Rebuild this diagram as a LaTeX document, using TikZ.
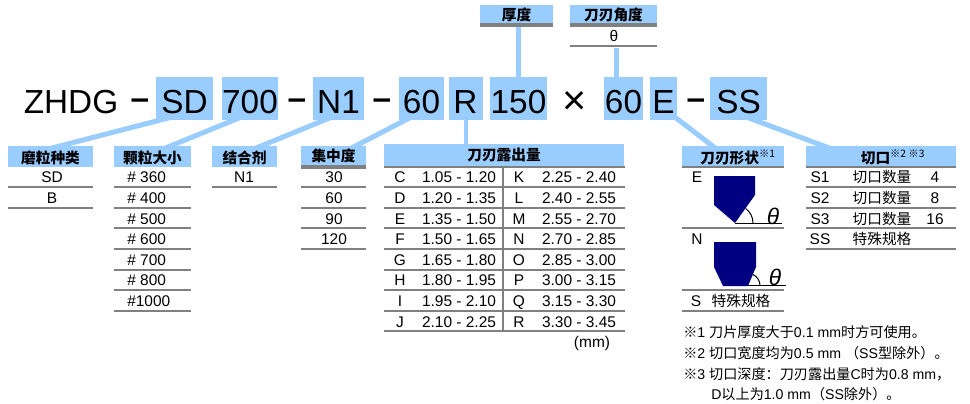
\documentclass[tikz,border=0pt]{standalone}
\usepackage{fontspec}
\usetikzlibrary{backgrounds}
\setmainfont{Liberation Sans}
\newfontfamily\cjk{Noto Sans CJK SC}
\definecolor{boxblue}{RGB}{153,204,255}
\definecolor{rulegray}{RGB}{128,128,128}
\definecolor{bladeblue}{RGB}{0,0,128}
\newcommand{\supmark}[1]{\textsuperscript{\normalfont\cjk #1}}
\tikzset{
    codebox/.style = {fill=boxblue, minimum height=32.25pt, inner sep=0pt, text height=21.8pt, text depth=0pt, font={\fontsize{25}{30}\selectfont}},
    codetext/.style = {inner sep=0pt, text height=21.8pt, text depth=0pt, font={\fontsize{25}{30}\selectfont}},
    headbox/.style = {fill=boxblue, inner sep=0pt, font={\fontsize{11}{13}\selectfont\bfseries\cjk}},
    lowtext/.style = {text height=10.5pt, text depth=0pt},
    rowtext/.style = {inner sep=0pt, text height=8.6pt, text depth=0pt, font={\fontsize{11.6}{14}\selectfont}},
    notetext/.style = {inner sep=0pt, anchor=west, font={\fontsize{10.6}{13}\selectfont}},
    leader/.style = {draw=boxblue, line width=3.75pt},
    rowrule/.style = {draw=rulegray, line width=1.5pt},
    headrule/.style = {draw=rulegray, line width=3pt},
}
\begin{document}
\begin{tikzpicture}[x=0.75pt, y=-0.75pt]
    \useasboundingbox (0, 0) rectangle (970, 403);

    % model code
    \node[codetext] (zhdg) at (71, 98.5) {ZHDG};
    \node[codetext] (dasha) at (140, 94.5) {\bfseries –};
    \node[codebox, minimum width=42.75pt] (codeSD) at (184.5, 98.5) {SD};
    \node[codebox, minimum width=42pt] (codeGrit) at (250, 98.5) {700};
    \node[codetext] (dashb) at (297, 94.5) {\bfseries –};
    \node[codebox, minimum width=38.25pt] (codeBond) at (338.5, 98.5) {N1};
    \node[codetext] (dashc) at (382, 94.5) {\bfseries –};
    \node[codebox, minimum width=33.75pt] (codeConc) at (421.5, 98.5) {60};
    \node[codebox, minimum width=25.5pt] (codeR) at (465.5, 98.5) {R};
    \node[codebox, minimum width=42.75pt] (codeThick) at (518.5, 98.5) {150};
    \node[codetext, font={\fontsize{31}{36}\selectfont}] (times) at (575, 100) {×};
    \node[codebox, minimum width=29.25pt] (codeAngle) at (623.5, 98.5) {60};
    \node[codebox, minimum width=20.25pt] (codeE) at (663.5, 98.5) {E};
    \node[codetext] (dashd) at (696, 94.5) {\bfseries –};
    \node[codebox, minimum width=42.75pt] (codeSS) at (738.5, 98.5) {SS};

    % headers
    \node[headbox, minimum width=54.75pt, minimum height=14.25pt] (headThick) at (516.5, 14.5) {厚度};
    \node[headbox, minimum width=65.25pt, minimum height=14.25pt] (headAngle) at (613.5, 14.5) {刀刃角度};
    \node[rowtext] (angleTheta) at (614, 36) {θ};
    \coordinate (angleEnd) at (616, 48);
    \node[headbox, lowtext, minimum width=63.75pt, minimum height=15.75pt] (headType) at (50.5, 156.5) {磨粒种类};
    \node[headbox, lowtext, minimum width=57.75pt, minimum height=15.75pt] (headGrit) at (152.5, 156.5) {颗粒大小};
    \node[headbox, lowtext, minimum width=48.75pt, minimum height=15.75pt] (headBond) at (244.5, 156.5) {结合剂};
    \node[headbox, minimum width=48.75pt, minimum height=14.25pt] (headConc) at (333.5, 155.5) {集中度};
    \node[headbox, minimum width=180pt, minimum height=16.5pt] (headExpo) at (504, 155) {刀刃露出量};
    \node[headbox, lowtext, minimum width=76.5pt, minimum height=15pt] (headShape) at (733, 156) {\hspace{7.5pt}刀刃形状\supmark{※1}};
    \node[headbox, lowtext, minimum width=112.5pt, minimum height=15pt] (headSlot) at (881, 156) {\hspace{18pt}切口\supmark{※2 ※3}};

    % leaders
    \begin{scope}[on background layer]
        \draw[leader] ([xshift=-11pt, yshift=2pt]codeSD.south) -- ([yshift=-2pt]headType.north);
        \draw[leader] ([xshift=-7.5pt, yshift=2pt]codeGrit.south) -- ([xshift=9pt, yshift=-2pt]headGrit.north);
        \draw[leader] ([xshift=-6pt, yshift=2pt]codeBond.south) -- ([xshift=8pt, yshift=-2pt]headBond.north);
        \draw[leader] ([xshift=-8.5pt, yshift=2pt]codeConc.south) -- ([xshift=13pt, yshift=-2pt]headConc.north);
        \draw[leader, line width=3pt] (codeR.south) -- (codeR.south |- headExpo.north);
        \draw[leader] (headThick.south -| codeThick.north) -- (codeThick.north);
        \draw[leader] (angleEnd) -- (angleEnd |- codeAngle.north);
        \draw[leader] ([xshift=9pt, yshift=2pt]codeE.south) -- ([xshift=-13pt, yshift=-2pt]headShape.north);
        \draw[leader] ([xshift=7pt, yshift=2pt]codeSS.south) -- ([xshift=-38pt, yshift=-2pt]headSlot.north);
    \end{scope}

    % header rules
    \draw[headrule] (480, 25.5) -- (553, 25.5);
    \draw[headrule] (570, 25.5) -- (657, 25.5);
    \draw[rowrule] (570, 46) -- (657, 46);
    \draw[headrule] (301, 167) -- (366, 167);
    \draw[rowrule] (384, 167) -- (625, 167);
    \draw[rowrule] (682, 167) -- (784, 167);
    \draw[rowrule] (806, 167) -- (956, 167);

    % type, bond
    \node[rowtext] (typeA) at (52, 177) {SD};
    \node[rowtext] (typeB) at (52, 198) {B};
    \draw[rowrule] (8, 187) -- (93, 187);
    \draw[rowrule] (8, 208) -- (93, 208);
    \node[rowtext] (bondA) at (244, 177) {N1};
    \draw[rowrule] (212, 187) -- (277, 187);

    % grit
    \foreach \y/\val [count=\i] in {177/\# 360, 198/\# 400, 219/\# 500, 239/\# 600, 260/\# 700, 280/\# 800, 301/\#1000} {
        \node[rowtext, anchor=west] (grit\i) at (127, \y) {\val};
    }
    \foreach \y in {187, 208, 228, 249, 270, 290, 311} {
        \draw[rowrule] (114, \y) -- (191, \y);
    }

    % concentration
    \foreach \y/\val [count=\i] in {177/30, 198/60, 219/90, 239/120} {
        \node[rowtext] (conc\i) at (334, \y) {\val};
    }
    \foreach \y in {187, 208, 228, 249} {
        \draw[rowrule] (301, \y) -- (366, \y);
    }

    % exposure
    \foreach \y/\a/\b/\c/\d [count=\i] in {
        177/C/1.05 - 1.20/K/2.25 - 2.40,
        198/D/1.20 - 1.35/L/2.40 - 2.55,
        219/E/1.35 - 1.50/M/2.55 - 2.70,
        239/F/1.50 - 1.65/N/2.70 - 2.85,
        260/G/1.65 - 1.80/O/2.85 - 3.00,
        280/H/1.80 - 1.95/P/3.00 - 3.15,
        301/I/1.95 - 2.10/Q/3.15 - 3.30,
        322/J/2.10 - 2.25/R/3.30 - 3.45} {
        \node[rowtext] (expoa\i) at (400, \y) {\a};
        \node[rowtext] (expob\i) at (459, \y) {\b};
        \node[rowtext] (expoc\i) at (519, \y) {\c};
        \node[rowtext] (expod\i) at (579, \y) {\d};
    }
    \foreach \y in {187, 208, 228, 249, 270, 290, 311, 331} {
        \draw[rowrule] (384, \y) -- (625, \y);
    }
    \draw[rowrule] (503, 167) -- (503, 332);
    \node[rowtext] (unit) at (592, 342) {(mm)};

    % shape
    \node[rowtext] (shapeE) at (697, 177) {E};
    \fill[bladeblue] (714, 176) -- (755, 176) -- (755, 195) -- (735, 223) -- (714, 205) -- cycle;
    \draw[line width=0.75pt] (735, 223) -- (782, 223);
    \draw[line width=0.75pt] (753, 223) arc[start angle=0, end angle=-54, radius=18];
    \node[inner sep=0pt, font={\fontsize{17}{20}\selectfont\itshape}] (thetaE) at (773, 216) {θ};
    \draw[rowrule] (682, 228) -- (784, 228);
    \node[rowtext] (shapeN) at (697, 239) {N};
    \fill[bladeblue] (714, 242) -- (756, 242) -- (756, 267) -- (748, 286) -- (723, 286) -- (714, 267) -- cycle;
    \draw[line width=0.75pt] (748, 285.5) -- (786, 285.5);
    \draw[line width=0.75pt] (760, 285.5) arc[start angle=0, end angle=-68, radius=12];
    \node[inner sep=0pt, font={\fontsize{17}{20}\selectfont\itshape}] (thetaN) at (775, 277) {θ};
    \draw[rowrule] (682, 290) -- (784, 290);
    \node[rowtext] (shapeS) at (696, 301) {S};
    \node[rowtext, font={\fontsize{11}{14}\selectfont\cjk}] (shapeSt) at (741, 301) {特殊规格};
    \draw[rowrule] (682, 311) -- (784, 311);

    % slots
    \foreach \y/\a/\b/\c [count=\i] in {177/S1/切口数量/4, 198/S2/切口数量/8, 219/S3/切口数量/16, 239/SS/特殊规格/{}} {
        \node[rowtext] (slota\i) at (820, \y) {\a};
        \node[rowtext, font={\fontsize{11}{14}\selectfont\cjk}] (slotb\i) at (882, \y) {\b};
        \node[rowtext] (slotc\i) at (935, \y) {\c};
    }
    \foreach \y in {187, 208, 228, 249} {
        \draw[rowrule] (806, \y) -- (956, \y);
    }

    % notes
    \node[notetext] (noteA) at (683, 332) {{\cjk ※}1 {\cjk 刀片厚度大于}0.1 mm{\cjk 时方可使用。}};
    \node[notetext] (noteB) at (683, 353) {{\cjk ※}2 {\cjk 切口宽度均为}0.5 mm {\cjk （}SS{\cjk 型除外）。}};
    \node[notetext] (noteC) at (683, 374) {{\cjk ※}3 {\cjk 切口深度：刀刃露出量}C{\cjk 时为}0.8 mm{\cjk ，}};
    \node[notetext] (noteD) at (711, 394) {D{\cjk 以上为}1.0 mm{\cjk （}SS{\cjk 除外）。}};
\end{tikzpicture}
\end{document}
